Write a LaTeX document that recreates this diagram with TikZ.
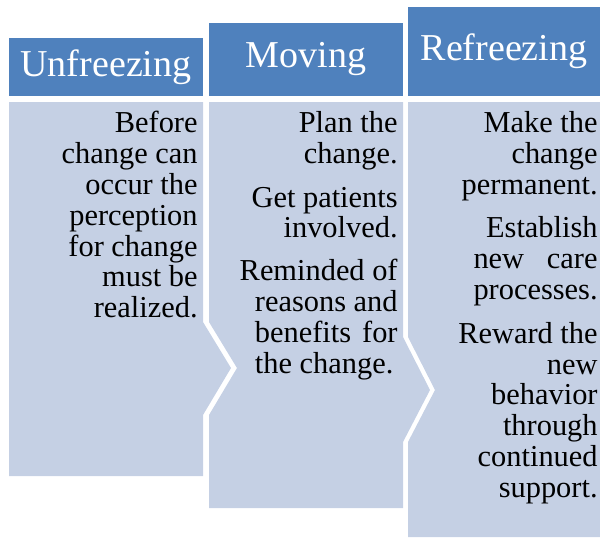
\documentclass[tikz,border=0pt]{standalone}
\usepackage{fontspec}
\usepackage{calc}
\setmainfont{Liberation Serif}
\definecolor{headblue}{RGB}{79,129,189}
\definecolor{bodyblue}{RGB}{197,208,228}

\begin{document}
\begin{tikzpicture}[x=0.5pt,y=-0.5pt,
    head/.style={text=white,inner sep=0pt,font=\fontsize{19}{22}\selectfont},
    body/.style={anchor=north east,inner sep=0pt,align=right,font=\fontsize{15.2}{15.4}\selectfont}]
    \useasboundingbox (0,0) rectangle (600,537);

    % Header boxes
    \fill[headblue] (9,38) rectangle (203,96);
    \fill[headblue] (209,23) rectangle (403,96);
    \fill[headblue] (408,7) rectangle (600,96);

    % Body of the first stage, pointing right
    \fill[bodyblue] (9,102) -- (203,102) -- (203,322) -- (231,368) -- (203,415)
        -- (203,476) -- (9,476) -- cycle;
    % Second stage, notched on the left and pointing right
    \fill[bodyblue] (209,102) -- (403,102) -- (403,337) -- (430,390) -- (403,442)
        -- (403,508) -- (209,508) -- (209,415) -- (237,368) -- (209,322) -- cycle;
    % Third stage, notched on the left
    \fill[bodyblue] (408,102) -- (600,102) -- (600,537) -- (408,537) -- (408,442)
        -- (435,390) -- (408,337) -- cycle;

    \node[head] (unfreeze) at (106,67) {Unfreezing};
    \node[head] (move) at (306,59.5) {Moving};
    \node[head] (refreeze) at (504,51.5) {Refreezing};

    \node[body] (before) at (198,111) {Before\\change can\\occur the\\perception\\for change\\must be\\realized.};
    \node[body] (plan) at (398,111) {Plan the\\change.\\[6.5pt]Get patients\\involved.\\[6pt]Reminded of\\reasons and\\\makebox[\widthof{reasons and}][s]{benefits for}\\\makebox[\widthof{reasons and}][l]{the change.}};
    \node[body] (permanent) at (598,111) {Make the\\change\\permanent.\\[6.5pt]Establish\hspace*{3pt}\\\makebox[\widthof{processes.}][s]{new care}\\processes.\\[6.5pt]Reward the\\new\\behavior\\through\\continued\\support.};
\end{tikzpicture}
\end{document}
